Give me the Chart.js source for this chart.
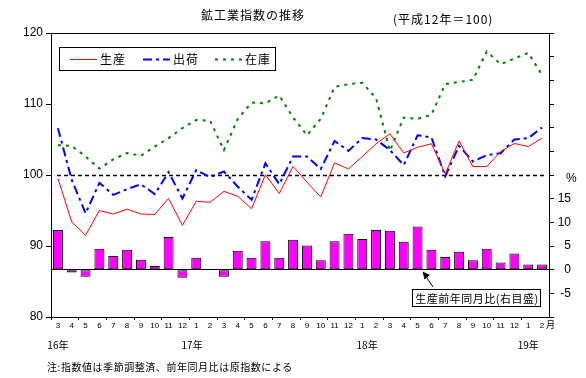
<!DOCTYPE html>
<html><head><meta charset="utf-8">
<script src="https://cdn.jsdelivr.net/npm/chart.js@4/dist/chart.umd.min.js"></script>
<style>
body{margin:0;background:#fff}
#wrap{position:relative;width:586px;height:378px;background:#fff}
canvas{position:absolute;left:0;top:0}
.t{position:absolute;font-family:"Noto Sans CJK JP";color:#000;white-space:nowrap;line-height:1}
</style>
</head><body>
<div id="wrap">
<canvas id="c" width="586" height="378"></canvas>
<div class="t" style="left:201px;top:9px;font-size:12px;letter-spacing:1px">鉱工業指数の推移</div>
<div class="t" style="left:393px;top:13px;font-size:12px;letter-spacing:1px">(平成12年＝100)</div>
<div class="t" style="left:47px;top:362px;font-size:10px;letter-spacing:0.55px">注:指数値は季節調整済、前年同月比は原指数による</div>
</div>
<script>
// categories (months from 平成16年3月 to 平成19年2月)
const months = ['3','4','5','6','7','8','9','10','11','12','1','2','3','4','5','6','7','8','9','10','11','12','1','2','3','4','5','6','7','8','9','10','11','12','1','2'];
const yearLabels = ['16年','17年','18年','19年'];
const yearAnchor = [0, 9.7, 22.35, 34];
// series (index, 平成12年=100)
const production = [99.5,93.4,91.5,95.0,94.5,95.2,94.5,94.45,96.7,92.9,96.3,96.15,97.7,97.0,95.25,100.05,97.4,101.2,99.0,96.9,101.7,100.85,102.6,104.4,105.8,103.1,103.9,104.4,100.15,104.8,101.2,101.2,103.3,104.45,104.0,105.2];
const shipments = [106.6,99.3,94.6,98.9,97.2,98.0,98.7,97.3,100.4,96.7,100.7,99.7,100.5,98.35,96.5,101.65,98.7,102.6,102.6,100.85,104.8,103.4,105.2,105.0,103.5,101.4,105.6,105.3,99.8,104.1,101.9,102.8,103.05,105.0,105.2,106.7];
const inventory = [104.2,104.1,102.6,100.9,102.2,103.1,102.7,104.0,105.2,106.6,107.75,107.65,103.5,107.9,110.2,110.1,111.2,108.1,105.6,107.9,112.4,112.8,113.0,110.8,103.4,108.1,107.9,108.5,112.8,113.1,113.4,117.4,115.6,116.4,117.2,114.1];
// 生産前年同月比 (%)
const yoy = [8.4,-0.6,-1.5,4.4,2.9,4.2,2.1,0.8,6.9,-1.7,2.5,0.0,-1.5,4.0,2.5,6.0,2.5,6.3,5.1,2.0,6.0,7.6,6.5,8.4,8.2,5.9,9.1,4.2,2.7,3.8,2.0,4.4,1.5,3.4,1.1,1.1];
// axes
const leftTicks = [80, 90, 100, 110, 120];
const rightLabelled = [-5, 0, 5, 10, 15];
const baseIndex = 100;

const JP = '"Noto Sans CJK JP"';
const NUM = '"Liberation Sans", Arial, sans-serif';

const deco = {
  id: 'deco',
  beforeDatasetsDraw(chart) {
    const {ctx, chartArea: a, scales} = chart;
    const y = Math.round(scales.y.getPixelForValue(baseIndex)) + 0.5;
    ctx.save();
    ctx.strokeStyle = '#000'; ctx.lineWidth = 1.5; ctx.setLineDash([4, 3]);
    ctx.beginPath(); ctx.moveTo(a.left + 6, y); ctx.lineTo(a.right - 4, y); ctx.stroke();
    ctx.restore();
  },
  afterDraw(chart) {
    const {ctx, chartArea: a, scales} = chart;
    ctx.save();
    // top border
    ctx.strokeStyle = '#000'; ctx.lineWidth = 1;
    ctx.beginPath(); ctx.moveTo(a.left, a.top + 0.5); ctx.lineTo(a.right, a.top + 0.5); ctx.stroke();
    // legend box
    ctx.fillStyle = '#fff';
    ctx.fillRect(59.5, 47.5, 216, 23);
    ctx.strokeRect(59.5, 47.5, 216, 23);
    const lx = [70, 143, 215];
    ctx.font = '12px ' + JP; ctx.textBaseline = 'middle'; ctx.textAlign = 'left';
    if ('letterSpacing' in ctx) ctx.letterSpacing = '1px';
    for (let i = 0; i < 3; i++) {
      const ds = chart.data.datasets[i];
      ctx.save();
      ctx.strokeStyle = ds.borderColor; ctx.lineWidth = ds.borderWidth;
      ctx.setLineDash(ds.borderDash || []);
      ctx.beginPath(); ctx.moveTo(lx[i], 59.5); ctx.lineTo(lx[i] + 27, 59.5); ctx.stroke();
      ctx.restore();
      ctx.fillStyle = '#000';
      ctx.fillText(ds.label, lx[i] + 30, 59.5);
    }
    // annotation box for bars
    const bar = chart.data.datasets[3];
    ctx.fillStyle = '#fff'; ctx.strokeStyle = '#000'; ctx.lineWidth = 1;
    ctx.fillRect(412.5, 289.5, 128, 17);
    ctx.strokeRect(412.5, 289.5, 128, 17);
    ctx.fillStyle = '#000'; ctx.font = '11px ' + JP; ctx.textAlign = 'center';
    if ('letterSpacing' in ctx) ctx.letterSpacing = '0.5px';
    ctx.fillText(bar.label, 477, 298.5);
    // arrow
    ctx.beginPath(); ctx.moveTo(433, 287); ctx.lineTo(425, 275); ctx.stroke();
    ctx.beginPath(); ctx.moveTo(422.5, 271.5); ctx.lineTo(430, 275); ctx.lineTo(424.5, 279.5); ctx.closePath(); ctx.fill();
    // year labels
    if ('letterSpacing' in ctx) ctx.letterSpacing = '0px';
    ctx.font = '10px ' + JP; ctx.textAlign = 'center'; ctx.textBaseline = 'middle';
    yearLabels.forEach((t, i) => ctx.fillText(t, scales.x.getPixelForValue(yearAnchor[i]), 345));
    // 月 and %
    ctx.font = '9px ' + JP; ctx.textAlign = 'left';
    ctx.fillText('月', 546, 325);
    ctx.font = '12px ' + NUM;
    ctx.fillText('%', 566, 179);
    ctx.restore();
  }
};

new Chart(document.getElementById('c'), {
  type: 'bar',
  data: {
    labels: months,
    datasets: [
      {type: 'line', label: '生産', data: production, borderColor: '#ff0000', borderWidth: 1, pointRadius: 0, tension: 0, yAxisID: 'y', order: 0},
      {type: 'line', label: '出荷', data: shipments, borderColor: '#0000ff', borderWidth: 2, borderDash: [9, 4, 3, 4], pointRadius: 0, tension: 0, yAxisID: 'y', order: 0},
      {type: 'line', label: '在庫', data: inventory, borderColor: '#008000', borderWidth: 2, borderDash: [3, 5], pointRadius: 0, tension: 0, yAxisID: 'y', order: 0},
      {type: 'bar', label: '生産前年同月比(右目盛)', data: yoy, backgroundColor: '#ff00ff', borderColor: '#000', borderWidth: 1, borderSkipped: false, yAxisID: 'y2', barPercentage: 0.72, categoryPercentage: 1, order: 1}
    ]
  },
  options: {
    responsive: false, animation: false, devicePixelRatio: 1,
    layout: {padding: {top: 33, left: 0, right: 15, bottom: 0}},
    plugins: {legend: {display: false}, tooltip: {enabled: false}},
    scales: {
      x: {
        offset: true,
        grid: {display: true, offset: true, drawOnChartArea: false, drawTicks: true, tickLength: 3,
               color: c => (c.index % 2 === 0 ? '#000' : 'rgba(0,0,0,0)')},
        border: {display: true, color: '#000', width: 1},
        ticks: {autoSkip: false, maxRotation: 0, minRotation: 0, padding: 1, color: '#000', font: {size: 8, family: NUM}},
        afterFit: s => { s.height = 61; }
      },
      y: {
        position: 'left', min: leftTicks[0], max: leftTicks[leftTicks.length - 1],
        ticks: {stepSize: 10, color: '#000', padding: 3, font: {size: 12, family: NUM}},
        grid: {drawOnChartArea: false, tickLength: 5, color: '#000'},
        border: {display: true, color: '#000', width: 1},
        afterFit: s => { s.width = 51; }
      },
      y2: {
        position: 'right', min: -10, max: 50,
        ticks: {stepSize: 5, color: '#000', padding: 3, crossAlign: 'far', font: {size: 12, family: NUM},
                callback: v => (rightLabelled.includes(v) ? String(v) : '')},
        grid: {drawOnChartArea: true, tickLength: 5, tickColor: '#000',
               color: c => (c.tick && c.tick.value === 0 ? '#000' : 'rgba(0,0,0,0)')},
        border: {display: true, color: '#000', width: 1},
        afterFit: s => { s.width = 22; }
      }
    }
  },
  plugins: [deco]
});
</script>
</body></html>
